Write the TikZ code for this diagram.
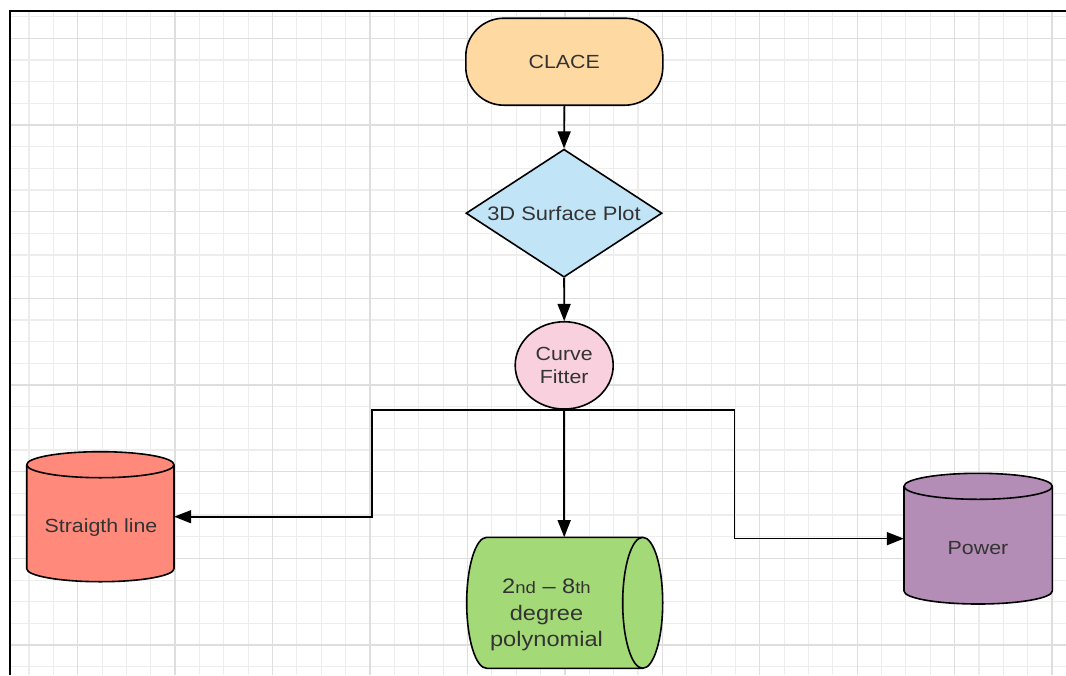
\documentclass[tikz,border=0pt]{standalone}
\usepackage{fontspec}
\setmainfont{Liberation Sans}
\usepackage{graphicx}
\usetikzlibrary{shapes.geometric,arrows.meta,calc}
\definecolor{txt}{HTML}{333333}
\definecolor{clacec}{HTML}{FED9A2}
\definecolor{diamc}{HTML}{C1E4F7}
\definecolor{cfc}{HTML}{F9D0DD}
\definecolor{slc}{HTML}{FF8A7B}
\definecolor{polyc}{HTML}{A4D977}
\definecolor{pwc}{HTML}{B38DB5}
\definecolor{gminor}{HTML}{EDEDED}
\definecolor{gmajor}{HTML}{DEDEDE}
\newcommand\sx[1]{\scalebox{1.124}[1]{#1}}
\begin{document}
\begin{tikzpicture}[x=1pt,y=1pt,
  box/.style={draw=black, line width=1.6pt, inner sep=0pt, text=txt},
  cyl/.style={draw=black, line width=1.6pt, line join=round},
  conn/.style={draw=black, line width=1.6pt, -{Triangle[length=17pt,width=13pt]}},
  lbl/.style={text=txt, inner sep=0pt, align=center},
  minorline/.style={draw=gminor, line width=1.1pt},
  majorline/.style={draw=gmajor, line width=1.4pt}]
\useasboundingbox (0,0) rectangle (1066,-675);
\fill[white] (0,0) rectangle (1066,-675);
% grid
\foreach \k [evaluate=\k as \xx using 77.7+24.36*\k] in {-2,...,40}
  {\draw[minorline] (\xx,-11) -- (\xx,-675);}
\foreach \k [evaluate=\k as \yy using 38.3+21.67*\k] in {-1,...,29}
  {\draw[minorline] (10,-\yy) -- (1066,-\yy);}
\foreach \k [evaluate=\k as \xx using 77.7+97.44*\k] in {0,...,10}
  {\draw[majorline] (\xx,-11) -- (\xx,-675);}
\foreach \k [evaluate=\k as \yy using 38.3+86.68*\k] in {0,...,7}
  {\draw[majorline] (10,-\yy) -- (1066,-\yy);}
% frame
\draw[line width=1.8pt] (10,-675) -- (10,-11) -- (1066,-11);

% cylinders (shapes)
\filldraw[cyl, fill=slc] (26.7,-464.7) -- (26.7,-568.7)
  arc[start angle=180,end angle=360,x radius=73.65,y radius=13] -- (174,-464.7)
  arc[start angle=0,end angle=180,x radius=73.65,y radius=13] -- cycle;
\draw[cyl] (26.7,-464.7) arc[start angle=180,end angle=360,x radius=73.65,y radius=13];

\filldraw[cyl, fill=pwc] (904,-486.3) -- (904,-591)
  arc[start angle=180,end angle=360,x radius=74.15,y radius=13] -- (1052.3,-486.3)
  arc[start angle=0,end angle=180,x radius=74.15,y radius=13] -- cycle;
\draw[cyl] (904,-486.3) arc[start angle=180,end angle=360,x radius=74.15,y radius=13];

\filldraw[cyl, fill=polyc] (486.7,-537.3) -- (642.7,-537.3)
  arc[start angle=90,end angle=-90,x radius=20,y radius=65.5] -- (486.7,-668.3)
  arc[start angle=270,end angle=90,x radius=20,y radius=65.5] -- cycle;
\draw[cyl] (642.7,-537.3) arc[start angle=90,end angle=270,x radius=20,y radius=65.5];

% nodes
\node[box, rectangle, rounded corners=38pt, fill=clacec, minimum width=197pt, minimum height=87pt,
  font=\fontsize{19}{22}\selectfont] (clace) at (564.3,-61.7) {\sx{CLACE}};
\node[box, diamond, fill=diamc, minimum width=196pt, minimum height=128pt, shape aspect=1.53,
  font=\fontsize{19.5}{22}\selectfont] (diam) at (564,-213.2) {\sx{3D Surface Plot}};
\node[box, ellipse, fill=cfc, minimum width=98pt, minimum height=87.3pt, align=center,
  font=\fontsize{19}{23}\selectfont] (cf) at (564.2,-365.4) {\sx{Curve}\\\sx{Fitter}};

\node[minimum width=147.3pt, minimum height=130pt, inner sep=0pt] (sl) at (100.35,-516.7) {};
\node[lbl, font=\fontsize{19}{22}\selectfont] (sltext) at (101,-527.5) {\sx{Straigth line}};

\node[minimum width=148.3pt, minimum height=130.7pt, inner sep=0pt] (pw) at (978.15,-538.65) {};
\node[lbl, font=\fontsize{19}{22}\selectfont] (pwtext) at (978,-548.3) {\sx{Power}};

\node[minimum width=196pt, minimum height=131pt, inner sep=0pt] (poly) at (564.7,-602.8) {};
\node[lbl, font=\fontsize{21}{26.8}\selectfont] (polytext) at (546.5,-615)
  {\sx{2{\fontsize{16.5}{16.5}\selectfont nd} -- 8{\fontsize{16.5}{16.5}\selectfont th}}\\\sx{degree}\\\sx{polynomial}};

% connectors
\coordinate (jl) at (371.7,0);
\coordinate (jr) at (734.3,0);
\draw[conn] (clace.south) -- (diam.north);
\draw[conn] (diam.south) -- (cf.north);
\draw[conn] (cf.south) -- (cf.south |- poly.north);
\draw[conn] (cf.south) -- (cf.south -| jl) |- (sl.east);
\draw[conn] (cf.south) -- (cf.south -| jr) |- (pw.west);
\end{tikzpicture}
\end{document}
